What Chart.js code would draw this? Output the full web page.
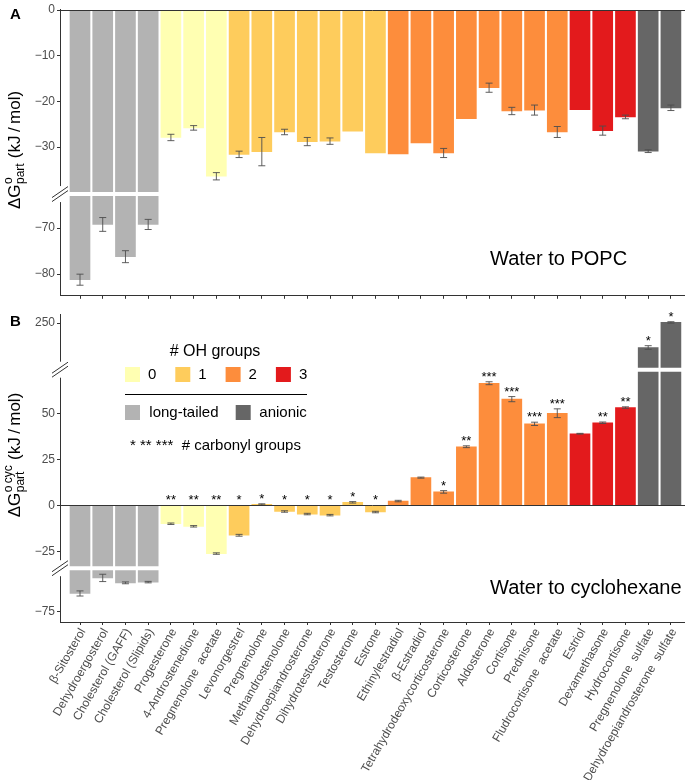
<!DOCTYPE html>
<html>
<head>
<meta charset="utf-8">
<script src="https://cdn.jsdelivr.net/npm/chart.js@4/dist/chart.umd.min.js"></script>
<style>
  body { margin: 0; background: #fff; }
  #wrap { position: relative; width: 685px; height: 780px; }
  #chartA { position: absolute; left: 0; top: 0; }
  #chartB { position: absolute; left: 0; top: 305px; }
</style>
</head>
<body>
<div id="wrap">
  <canvas id="chartA" width="685" height="305"></canvas>
  <canvas id="chartB" width="685" height="475"></canvas>
</div>
<script>
// Steroids on the x axis
const steroids = [
    'β-Sitosterol', 'Dehydroergosterol', 'Cholesterol (GAFF)', 'Cholesterol (Slipids)',
    'Progesterone', '4-Androstenedione', 'Pregnenolone  acetate', 'Levonorgestrel',
    'Pregnenolone', 'Methandrostenolone', 'Dehydroepiandrosterone', 'Dihydrotestosterone',
    'Testosterone', 'Estrone', 'Ethinylestradiol', 'β-Estradiol',
    'Tetrahydrodeoxycorticosterone', 'Corticosterone', 'Aldosterone', 'Cortisone',
    'Prednisone', 'Fludrocortisone  acetate', 'Estriol', 'Dexamethasone',
    'Hydrocortisone', 'Pregnenolone  sulfate', 'Dehydroepiandrosterone  sulfate'
];

// # OH groups ('long' = long-tailed, 'anion' = anionic)
const ohGroups = ['long', 'long', 'long', 'long', 0, 0, 0, 1, 1, 1, 1, 1, 1, 1,
    2, 2, 2, 2, 2, 2, 2, 2, 3, 3, 3, 'anion', 'anion'];

// # carbonyl groups (stars in panel B)
const carbonyls = [0, 0, 0, 0, 2, 2, 2, 1, 1, 1, 1, 1, 1, 1, 0, 0, 1, 2, 3, 3, 3, 3, 0, 2, 2, 1, 1];

// Panel A: water to POPC (kJ/mol)
const popcValues = [-81.2, -69.2, -76.2, -69.2, -27.9, -25.8, -36.4, -31.6, -31.0, -26.7, -28.8, -28.7,
    -26.5, -31.3, -31.5, -29.1, -31.3, -23.8, -17.0, -22.1, -21.9, -26.7, -21.8, -26.4, -23.4, -30.9, -21.4];
const popcErrors = [1.2, 1.5, 1.3, 1.1, 0.7, 0.5, 0.8, 0.7, 3.1, 0.6, 0.9, 0.7,
    0, 0, 0, 0, 1.0, 0, 1.0, 0.8, 1.1, 1.2, 0, 1.0, 0.4, 0.3, 0.6];

// Panel B: water to cyclohexane (kJ/mol)
const cycValues = [-65.0, -56.5, -59.2, -58.8, -10.0, -11.4, -26.3, -16.3, 0.6, -3.3, -4.7, -5.3,
    1.7, -3.6, 2.4, 15.2, 7.4, 32.1, 66.8, 58.1, 44.6, 50.4, 39.2, 45.2, 53.5, 236.7, 250.4];
const cycErrors = [1.4, 2.0, 0.5, 0.4, 0.4, 0.4, 0.4, 0.5, 0.3, 0.4, 0.4, 0.4,
    0.4, 0.4, 0.4, 0.3, 0.7, 0.5, 0.8, 1.4, 0.9, 2.4, 0.2, 0.4, 0.4, 1.0, 0.4];

// Tick labels per axis segment
const popcTicksTop = [0, -10, -20, -30];
const popcTicksBottom = [-70, -80];
const cycTicksTop = [250];
const cycTicksMid = [50, 25, 0, -25];
const cycTicksBottom = [-75];

const groupColors = {
    0: '#FFFFB2', 1: '#FECC5C', 2: '#FD8D3C', 3: '#E31A1C',
    long: '#B3B3B3', anion: '#666666'
};

const FONT = '"Liberation Sans", Arial, Helvetica, sans-serif';
const AXIS = '#333333';
const TICK_TEXT = '#4d4d4d';

Chart.defaults.font.family = FONT;

const fmt = v => (v < 0 ? '\u2212' + Math.abs(v) : String(v));

// Axis segments, listed top to bottom
const popcSegments = [
    { id: 'yTop', min: -40.3, max: 0.2, weight: 189, ticks: popcTicksTop, gap: [0, 2] },
    { id: 'yLow', min: -84.7, max: -62.6, weight: 104, ticks: popcTicksBottom, gap: [2, 0] }
];
const cycSegments = [
    { id: 'yTop', min: 224.6, max: 254.9, weight: 55.7, ticks: cycTicksTop, gap: [0, 2] },
    { id: 'yMid', min: -34.3, max: 74.2, weight: 199.3, ticks: cycTicksMid, gap: [2, 2] },
    { id: 'yLow', min: -80.6, max: -51.2, weight: 54, ticks: cycTicksBottom, gap: [2, 0] }
];

function yScale(seg) {
    return {
        type: 'linear',
        position: 'left',
        stack: 'v',
        stackWeight: seg.weight,
        min: seg.min,
        max: seg.max,
        afterBuildTicks: s => { s.ticks = seg.ticks.map(v => ({ value: v })); },
        afterFit: s => { s.width = 60; },
        grid: { drawOnChartArea: false, drawTicks: true, tickLength: 3, color: AXIS },
        border: { display: true, color: AXIS, width: 1 },
        ticks: { font: { size: 12 }, color: TICK_TEXT, padding: 2, callback: v => fmt(v) }
    };
}

function xScale(showLabels, height) {
    return {
        type: 'linear',
        min: -0.88,
        max: 26.62,
        offset: false,
        afterBuildTicks: s => { s.ticks = steroids.map((_, i) => ({ value: i })); },
        afterFit: s => { s.height = height; },
        grid: { display: true, offset: false, drawOnChartArea: false, drawTicks: true, tickLength: 3, color: AXIS },
        border: { display: true, color: AXIS, width: 1 },
        ticks: {
            display: showLabels, autoSkip: false, minRotation: 60, maxRotation: 60, padding: 1,
            labelOffset: 3, font: { size: 12 }, color: TICK_TEXT,
            callback: (v, i) => steroids[i]
        }
    };
}

function segDataset(values, axisId) {
    return {
        data: values.map((v, i) => ({ x: i, y: v })),
        yAxisID: axisId,
        backgroundColor: ohGroups.map(g => groupColors[g]),
        borderWidth: 0,
        barThickness: 20,
        grouped: false
    };
}

// Rotated y title with super/subscripts
function drawYTitle(ctx, x, yc, sup, sub) {
    ctx.save();
    ctx.translate(x, yc);
    ctx.rotate(-Math.PI / 2);
    const big = '17px ' + FONT, small = '12px ' + FONT;
    ctx.font = big;
    const wG = ctx.measureText('ΔG').width;
    const rest = ' (kJ\u2009/\u2009mol)';
    const wRest = ctx.measureText(rest).width;
    ctx.font = small;
    const wScript = Math.max(ctx.measureText(sup).width, ctx.measureText(sub).width);
    let cx = -(wG + wScript + 1 + wRest) / 2;
    ctx.fillStyle = '#000';
    ctx.textBaseline = 'alphabetic';
    ctx.textAlign = 'left';
    ctx.font = big;
    ctx.fillText('ΔG', cx, 0);
    cx += wG + 0.5;
    ctx.font = small;
    ctx.fillText(sup, cx, -8);
    ctx.fillText(sub, cx, 4);
    cx += wScript + 0.5;
    ctx.font = big;
    ctx.fillText(rest, cx, 0);
    ctx.restore();
}

function drawLegend(ctx) {
    ctx.save();
    ctx.fillStyle = '#000';
    ctx.textBaseline = 'middle';
    ctx.textAlign = 'center';
    ctx.font = '16px ' + FONT;
    ctx.fillText('# OH groups', 215, 47);
    ctx.textAlign = 'left';
    ctx.font = '15px ' + FONT;
    [0, 1, 2, 3].forEach((g, k) => {
        const x = 125 + k * 50.3;
        ctx.fillStyle = groupColors[g];
        ctx.fillRect(x, 62, 15, 15);
        ctx.fillStyle = '#000';
        ctx.fillText(String(g), x + 23, 70);
    });
    ctx.strokeStyle = '#000';
    ctx.lineWidth = 1;
    ctx.beginPath();
    ctx.moveTo(125, 89.5);
    ctx.lineTo(307, 89.5);
    ctx.stroke();
    ctx.fillStyle = groupColors.long;
    ctx.fillRect(125, 100, 15, 15);
    ctx.fillStyle = groupColors.anion;
    ctx.fillRect(235.7, 100, 15, 15);
    ctx.fillStyle = '#000';
    ctx.fillText('long-tailed', 149.3, 108);
    ctx.fillText('anionic', 259.3, 108);
    ctx.fillText('* ** ***  # carbonyl groups', 130, 141);
    ctx.restore();
}

function panelPlugin(p) {
    return {
        id: 'panel',
        beforeDatasetDraw(chart, args) {
            const ys = args.meta.yScale, area = chart.chartArea, ctx = chart.ctx;
            const seg = p.segments.find(s => s.id === ys.id);
            ctx.save();
            ctx.beginPath();
            ctx.rect(area.left, ys.top + seg.gap[0], area.right - area.left,
                ys.bottom - ys.top - seg.gap[0] - seg.gap[1]);
            ctx.clip();
        },
        afterDatasetDraw(chart, args) {
            const ys = args.meta.yScale, xs = chart.scales.x, ctx = chart.ctx;
            ctx.strokeStyle = '#4d4d4d';
            ctx.lineWidth = 0.9;
            p.values.forEach((v, i) => {
                const e = p.errors[i];
                if (!e) return;
                const x = xs.getPixelForValue(i);
                const y1 = ys.getPixelForValue(v - e), y2 = ys.getPixelForValue(v + e);
                ctx.beginPath();
                ctx.moveTo(x, y1); ctx.lineTo(x, y2);
                ctx.moveTo(x - 3.5, y1); ctx.lineTo(x + 3.5, y1);
                ctx.moveTo(x - 3.5, y2); ctx.lineTo(x + 3.5, y2);
                ctx.stroke();
            });
            ctx.restore();
        },
        afterDraw(chart) {
            const ctx = chart.ctx, area = chart.chartArea, xs = chart.scales.x;
            const segs = p.segments.map(s => chart.scales[s.id]);
            ctx.save();

            // zero line
            const zs = segs.find(s => s.min <= 0 && s.max >= 0);
            const zy = Math.round(zs.getPixelForValue(0)) + 0.5;
            ctx.strokeStyle = AXIS;
            ctx.lineWidth = 1;
            ctx.beginPath();
            ctx.moveTo(area.left, zy);
            ctx.lineTo(area.right, zy);
            ctx.stroke();

            // axis breaks
            for (let k = 0; k < segs.length - 1; k++) {
                const y = segs[k].bottom;
                ctx.fillStyle = '#fff';
                ctx.fillRect(area.left - 2, y - 8, 4, 16);
                ctx.strokeStyle = AXIS;
                ctx.lineWidth = 1;
                [-2, 2].forEach(d => {
                    ctx.beginPath();
                    ctx.moveTo(area.left - 8, y + 5.5 + d);
                    ctx.lineTo(area.left + 8, y - 5.5 + d);
                    ctx.stroke();
                });
            }

            // carbonyl stars
            if (p.stars) {
                ctx.fillStyle = '#000';
                ctx.font = '13px ' + FONT;
                ctx.textAlign = 'center';
                ctx.textBaseline = 'alphabetic';
                p.values.forEach((v, i) => {
                    if (!p.stars[i]) return;
                    const top = v > 0 ? v + p.errors[i] : 0;
                    const s = segs.find(sc => sc.min <= top && sc.max >= top) || segs[0];
                    ctx.fillText('*'.repeat(p.stars[i]), xs.getPixelForValue(i), s.getPixelForValue(top) - 1);
                });
            }

            // panel letter
            ctx.fillStyle = '#000';
            ctx.textAlign = 'left';
            ctx.textBaseline = 'middle';
            ctx.font = 'bold 15px ' + FONT;
            ctx.fillText(p.letter, 10, p.letterY);

            // subtitle inside the plot
            ctx.font = '20px ' + FONT;
            ctx.fillText(p.subtitle, 490, p.subtitleY);

            drawYTitle(ctx, 20, 150, p.sup, 'part');
            if (p.legend) drawLegend(ctx);
            ctx.restore();
        }
    };
}

function makeChart(canvasId, values, segments, extra) {
    const scales = { x: xScale(extra.showLabels, extra.xHeight) };
    // later-defined left axes are stacked on top
    segments.slice().reverse().forEach(seg => { scales[seg.id] = yScale(seg); });
    return new Chart(document.getElementById(canvasId), {
        type: 'bar',
        data: { datasets: segments.map(seg => segDataset(values, seg.id)) },
        options: {
            responsive: false,
            animation: false,
            layout: { padding: { top: 8, left: 0, right: 0, bottom: 0 } },
            plugins: { legend: { display: false }, tooltip: { enabled: false } },
            scales: scales
        },
        plugins: [panelPlugin(Object.assign({ values, segments }, extra))]
    });
}

makeChart('chartA', popcValues, popcSegments, {
    errors: popcErrors, showLabels: false, xHeight: 4,
    letter: 'A', letterY: 15, subtitle: 'Water to POPC', subtitleY: 259,
    sup: 'o', stars: null, legend: false
});

makeChart('chartB', cycValues, cycSegments, {
    errors: cycErrors, showLabels: true, xHeight: 158,
    letter: 'B', letterY: 17, subtitle: 'Water to cyclohexane', subtitleY: 283,
    sup: 'o\u2009cyc', stars: carbonyls, legend: true
});
</script>
</body>
</html>
